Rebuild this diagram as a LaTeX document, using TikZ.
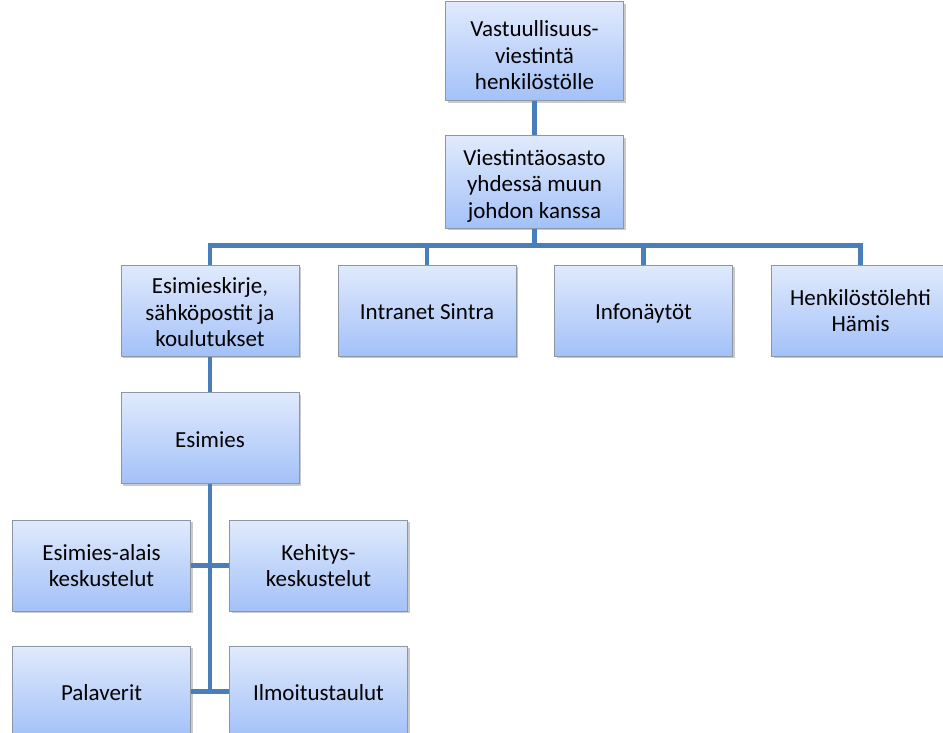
\documentclass[tikz,border=0pt]{standalone}
\usepackage{fontspec}
\setmainfont{Carlito}
\usetikzlibrary{shadows}
\definecolor{linec}{RGB}{74,126,187}
\definecolor{boxtop}{RGB}{224,234,252}
\definecolor{boxbot}{RGB}{163,193,248}
\definecolor{boxedge}{RGB}{140,150,165}
\newcommand{\mystrut}{\rule[-4pt]{0pt}{26.5pt}}
\tikzset{
  box/.style={draw=boxedge, line width=1pt, top color=boxtop, bottom color=boxbot,
    minimum width=178pt, minimum height=91pt, inner sep=0pt,
    drop shadow={shadow xshift=2pt, shadow yshift=-2pt, opacity=0.35, fill=black!60}},
  txt/.style={align=center, inner sep=0pt, font=\fontsize{23}{26.5}\selectfont, text=black,
    execute at begin node=\mystrut, execute at end node=\mystrut},
  conn/.style={draw=linec, line width=4.5pt}
}
\begin{document}
\begin{tikzpicture}[x=1pt,y=-1pt]
\useasboundingbox (0,0) rectangle (943,733);
\node[box, minimum height=99pt] (top) at (534.5,51.5) {};
\node[box, minimum height=92pt] (v2) at (534.5,182) {};
\node[box] (ra) at (210,310.5) {};
\node[box] (rb) at (427,310.5) {};
\node[box] (rc) at (643.5,310.5) {};
\node[box] (rd) at (860.5,310.5) {};
\node[box] (es) at (210,438) {};
\node[box] (ea) at (101.5,565.5) {};
\node[box] (kh) at (318.5,565.5) {};
\node[box] (pa) at (101.5,691.5) {};
\node[box] (il) at (318.5,691.5) {};
\node[txt] (ttop) at ([yshift=-6pt]top.center) {Vastuullisuus-\\viestintä\\henkilöstölle};
\node[txt] (tv2) at ([yshift=-4pt]v2.center) {Viestintäosasto\\yhdessä muun\\johdon kanssa};
\node[txt] (tra) at ([yshift=-4pt]ra.center) {Esimieskirje,\\sähköpostit ja\\koulutukset};
\node[txt] (trb) at (rb.center) {Intranet Sintra};
\node[txt] (trc) at (rc.center) {Infonäytöt};
\node[txt] (trd) at ([yshift=-2pt]rd.center) {Henkilöstölehti\\Hämis};
\node[txt] (tes) at (es.center) {Esimies};
\node[txt] (tea) at ([yshift=-2pt]ea.center) {Esimies-alais\\keskustelut};
\node[txt] (tkh) at ([yshift=-2pt]kh.center) {Kehitys-\\keskustelut};
\node[txt] (tpa) at (pa.center) {Palaverit};
\node[txt] (til) at (il.center) {Ilmoitustaulut};
\draw[conn] (top.south) -- (v2.north);
\draw[conn] (v2.south) -- ++(0,17) coordinate (bus);
\draw[conn] (bus) -| (ra.north);
\draw[conn] (bus) -| (rb.north);
\draw[conn] (bus) -| (rc.north);
\draw[conn] (bus) -| (rd.north);
\draw[conn] (ra.south) -- (es.north);
\draw[conn] (es.south) -- (es.south |- pa.east);
\draw[conn] (ea.east) -- (kh.west);
\draw[conn] (pa.east) -- (il.west);
\end{tikzpicture}
\end{document}
